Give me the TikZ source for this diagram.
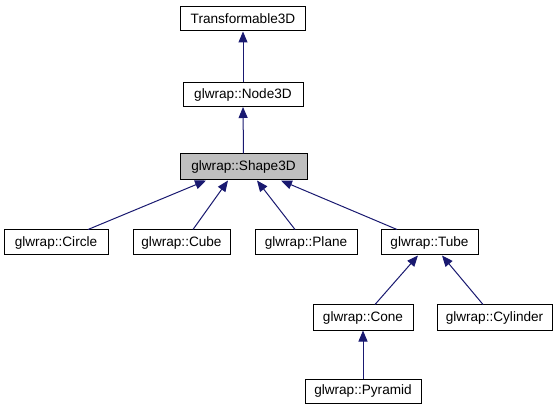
\documentclass[tikz,border=0pt]{standalone}
\usepackage{fontspec}
\setmainfont{Liberation Sans}
\usetikzlibrary{arrows.meta}
\definecolor{edgeblue}{RGB}{25,25,112}
\definecolor{hlgray}{RGB}{191,191,191}
\begin{document}
\begin{tikzpicture}[x=1pt,y=-1pt,
  cls/.style={draw=black,line width=1pt,fill=white,inner sep=0pt,minimum height=24pt,
    font=\fontsize{13.6}{16}\selectfont},
  inh/.style={draw=edgeblue,line width=1pt,-{Triangle[length=11pt,width=9pt]},edgeblue}]
\useasboundingbox (0,0) rectangle (559,411);
\node[cls,minimum width=125pt] (t3d) at (243,19) {Transformable3D};
\node[cls,minimum width=120pt] (n3d) at (243,94.5) {glwrap::Node3D};
\node[cls,minimum width=127pt,minimum height=26pt,fill=hlgray] (s3d) at (243.5,167) {glwrap::Shape3D};
\node[cls,minimum width=104pt,minimum height=25pt] (circ) at (56,242.5) {glwrap::Circle};
\node[cls,minimum width=97pt,minimum height=25pt] (cube) at (181.5,242.5) {glwrap::Cube};
\node[cls,minimum width=102pt,minimum height=25pt] (plane) at (306,242.5) {glwrap::Plane};
\node[cls,minimum width=97pt,minimum height=25pt] (tube) at (429.5,242.5) {glwrap::Tube};
\node[cls,minimum width=100pt,minimum height=25pt] (cone) at (363,317.5) {glwrap::Cone};
\node[cls,minimum width=115pt,minimum height=25pt] (cyl) at (494.5,317.5) {glwrap::Cylinder};
\node[cls,minimum width=116pt] (pyr) at (363,391) {glwrap::Pyramid};
\draw[inh] (n3d.north) -- (t3d.south);
\draw[inh] (s3d.north) -- (n3d.south);
\draw[inh] ([xshift=32pt]circ.north) -- ([xshift=-37.5pt]s3d.south);
\draw[inh] ([xshift=11.5pt]cube.north) -- ([xshift=-15.5pt]s3d.south);
\draw[inh] ([xshift=-11pt]plane.north) -- ([xshift=13.5pt]s3d.south);
\draw[inh] ([xshift=-32.5pt]tube.north) -- ([xshift=37.5pt]s3d.south);
\draw[inh] ([xshift=12pt]cone.north) -- ([xshift=-11.5pt]tube.south);
\draw[inh] ([xshift=-11.5pt]cyl.north) -- ([xshift=12.5pt]tube.south);
\draw[inh] (pyr.north) -- (cone.south);
\end{tikzpicture}
\end{document}
